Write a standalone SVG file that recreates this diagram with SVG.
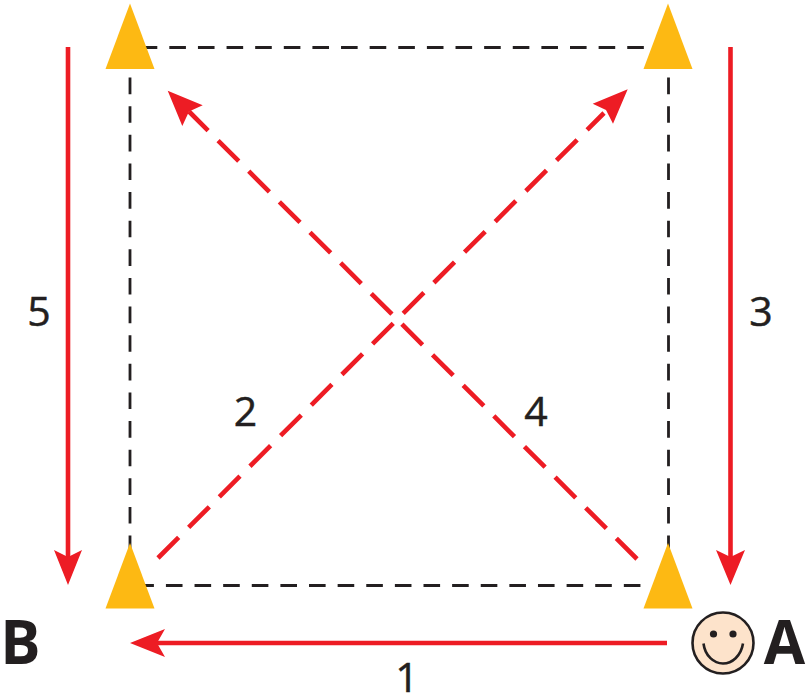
<svg xmlns="http://www.w3.org/2000/svg" width="807" height="694" viewBox="0 0 807 694">
<style>
.dash{fill:none;stroke:#231f20;stroke-width:2.8;stroke-dasharray:16.6 12.02}
.red{fill:none;stroke:#ed1c24;stroke-width:4.6}
.reddash{fill:none;stroke:#ed1c24;stroke-width:4.6;stroke-dasharray:29.2 14.1}
.head{fill:#ed1c24}
.tri{fill:#fdb913}
.t{font-family:"Open Sans","Noto Sans",sans-serif;font-size:41px;fill:#231f20;stroke:#231f20;stroke-width:.5;text-anchor:middle}
.b{font-family:"Open Sans","Noto Sans",sans-serif;font-size:60px;font-weight:700;fill:#231f20;text-anchor:middle}
</style>
<rect width="807" height="694" fill="#fff"/>
<g id="connectors">
<path class="dash" d="M140.7 47.5H644"/>
<path class="dash" d="M137.3 585.5H644"/>
<path class="dash" d="M130 49V560"/>
<path class="dash" d="M668.500 49V560"/>
<path class="red" d="M68 47V560"/>
<path class="head" d="M68 585L54 550L68 557L82 550Z"/>
<path class="red" d="M730.500 47V560"/>
<path class="head" d="M730.500 585L716 550L730.500 557L745 550Z"/>
<path class="red" d="M667 643H155"/>
<path class="head" d="M130 643L165 629L157 643L165 657Z"/>
<path class="reddash" d="M158 558L604 113"/>
<path class="head" d="M627.700 89.300L592.700 103.700L606 110L613 123.700Z"/>
<path class="reddash" d="M637 559L189 111.500"/>
<path class="head" d="M167.700 90.700L202.700 105.300L189 111.500L182.300 126Z"/>
</g>
<g id="cone-top-left"><path class="tri" d="M130 3.500L154.500 69H105.500Z"/></g>
<g id="cone-top-right"><path class="tri" d="M668 3.500L692.500 69H643.500Z"/></g>
<g id="cone-bottom-left"><path class="tri" d="M130 543L154.500 608.500H105.500Z"/></g>
<g id="cone-bottom-right"><path class="tri" d="M668 543L692.500 608.500H643.500Z"/></g>
<g id="player-a">
<circle cx="723" cy="643" r="30.500" fill="#fde3cb" stroke="#231f20" stroke-width="2.600"/>
<circle cx="713.500" cy="634" r="3.600" fill="#231f20"/>
<circle cx="733" cy="634" r="3.600" fill="#231f20"/>
<path d="M703.500 643.500C705 656 714 663.500 723 663.500S741 656 743 643.500" fill="none" stroke="#231f20" stroke-width="2.600"/>
<text class="b" x="784.500" y="664">A</text>
</g>
<g id="label-b"><text class="b" x="20.500" y="664">B</text></g>
<g id="labels">
<text class="t" x="407" y="692">1</text>
<text class="t" x="245.500" y="426">2</text>
<text class="t" x="761" y="326">3</text>
<text class="t" x="536" y="426">4</text>
<text class="t" x="39" y="326">5</text>
</g>
</svg>
